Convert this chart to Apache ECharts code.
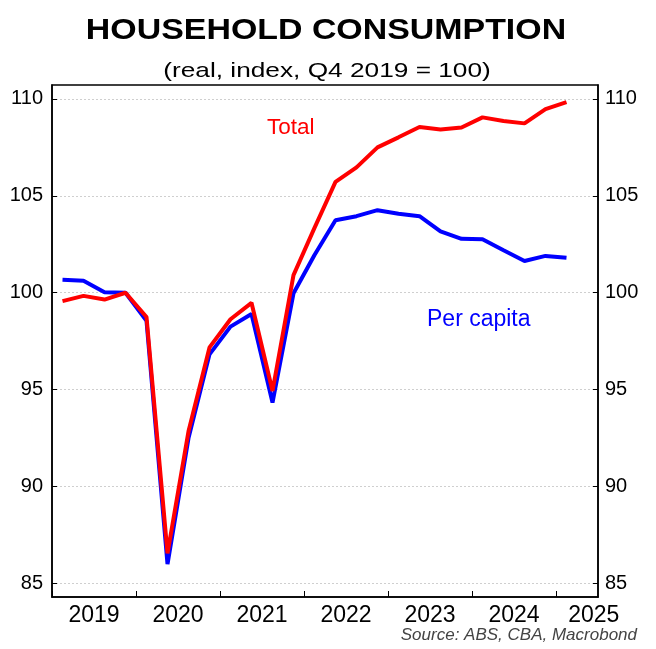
<!DOCTYPE html>
<html><head><meta charset="utf-8">
<script src="https://cdn.jsdelivr.net/npm/echarts@6/dist/echarts.min.js"></script>
<style>html,body{margin:0;padding:0;background:#fff}#c{width:656px;height:649px}</style>
</head><body><div id="c"></div>
<script>
const quarters = ['2019Q1','2019Q2','2019Q3','2019Q4','2020Q1','2020Q2','2020Q3','2020Q4','2021Q1','2021Q2','2021Q3','2021Q4','2022Q1','2022Q2','2022Q3','2022Q4','2023Q1','2023Q2','2023Q3','2023Q4','2024Q1','2024Q2','2024Q3','2024Q4','2025Q1'];
const total = [99.57,99.84,99.65,100.0,98.75,86.55,92.85,97.18,98.63,99.48,94.93,100.91,103.35,105.72,106.47,107.5,108.02,108.55,108.42,108.53,109.05,108.86,108.74,109.48,109.84];
const perCapita = [100.67,100.62,100.03,100.0,98.55,86.0,92.5,96.82,98.25,98.9,94.33,99.97,101.95,103.74,103.95,104.26,104.08,103.95,103.17,102.78,102.76,102.19,101.64,101.9,101.8];
const yearTicks = [2019,2020,2021,2022,2023,2024,2025];
const yearLabelPos = [2019.5,2020.5,2021.5,2022.5,2023.5,2024.5,2025.45];
const yTicks = [85,90,95,100,105,110];

function qx(q){ const y = +q.slice(0,4), n = +q.slice(5); return y + (n - 0.5)/4; }
const totalData = quarters.map((q,i)=>[qx(q), total[i]]);
const pcData = quarters.map((q,i)=>[qx(q), perCapita[i]]);

const FONT = '"Liberation Sans", Arial, sans-serif';
const chart = echarts.init(document.getElementById('c'));
const yAxisBase = {
  type:'value', min:84.3, max:110.72,
  axisLine:{show:true, lineStyle:{color:'#000', width:1.5}},
  axisTick:{show:true, inside:true, length:5, customValues:yTicks, lineStyle:{color:'#000', width:1}},
  axisLabel:{customValues:yTicks, color:'#000', fontSize:20, fontFamily:FONT, margin:9},
  splitLine:{show:true, lineStyle:{color:'#cfcfcf', type:[2,2], width:1}}
};
chart.setOption({
  animation:false,
  backgroundColor:'#fff',
  grid:{left:52, right:58, top:85, bottom:52, show:true, borderColor:'#000', borderWidth:1.5, backgroundColor:'transparent'},
  xAxis:{
    type:'value', min:2019, max:2025.5,
    axisLine:{show:true, lineStyle:{color:'#000', width:1.5}},
    axisTick:{show:true, inside:true, length:6, customValues:yearTicks, lineStyle:{color:'#000', width:1}},
    axisLabel:{customValues:yearLabelPos, formatter:v=>String(Math.floor(v)), color:'#000', fontSize:23, fontFamily:FONT, margin:7},
    splitLine:{show:false}
  },
  yAxis:[
    Object.assign({}, yAxisBase, {position:'left'}),
    Object.assign({}, yAxisBase, {position:'right', splitLine:{show:false}, axisLabel:Object.assign({}, yAxisBase.axisLabel, {margin:7})})
  ],
  graphic:[
    {type:'text', x:326, y:31, scaleX:1.13, style:{text:'HOUSEHOLD CONSUMPTION', fill:'#000', font:'bold 30px '+FONT, align:'center', verticalAlign:'middle'}},
    {type:'text', x:327, y:71, scaleX:1.25, style:{text:'(real, index, Q4 2019 = 100)', fill:'#000', font:'21px '+FONT, align:'center', verticalAlign:'middle'}},
    {type:'text', x:637, y:635, style:{text:'Source: ABS, CBA, Macrobond', fill:'#444', font:'italic 17px '+FONT, align:'right', verticalAlign:'middle'}},
    {type:'text', x:267, y:127.5, style:{text:'Total', fill:'#ff0000', font:'22.5px '+FONT, align:'left', verticalAlign:'middle'}},
    {type:'text', x:427, y:319.5, style:{text:'Per capita', fill:'#0000ff', font:'23px '+FONT, align:'left', verticalAlign:'middle'}}
  ],
  series:[
    {name:'Per capita', type:'line', data:pcData, showSymbol:false, lineStyle:{color:'#0000ff', width:4}, itemStyle:{color:'#0000ff'}, z:2},
    {name:'Total', type:'line', data:totalData, showSymbol:false, lineStyle:{color:'#ff0000', width:4}, itemStyle:{color:'#ff0000'}, z:3}
  ]
});
</script></body></html>
